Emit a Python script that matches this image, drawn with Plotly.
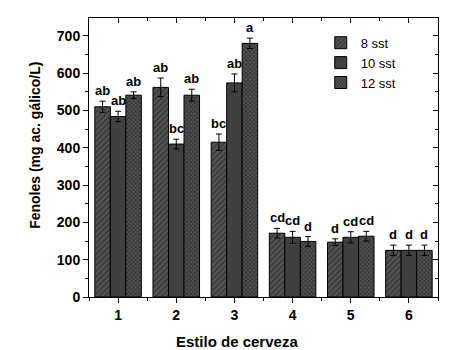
import plotly.graph_objects as go

categories = [1, 2, 3, 4, 5, 6]
series_names = ["8 sst", "10 sst", "12 sst"]
vals_8 = [510, 562, 415, 171, 147, 125]
err_8 = [15, 25, 22, 13, 9, 14]
vals_10 = [484, 410, 574, 160, 160, 125]
err_10 = [14, 13, 24, 16, 15, 14]
vals_12 = [541, 541, 680, 149, 163, 125]
err_12 = [9, 16, 14, 13, 13, 14]
letters_8 = ["ab", "ab", "bc", "cd", "d", "d"]
letters_10 = ["ab", "bc", "ab", "cd", "cd", "d"]
letters_12 = ["ab", "ab", "a", "d", "cd", "d"]
y_ticks = [0, 100, 200, 300, 400, 500, 600, 700]

FONT = "Arial, Liberation Sans, sans-serif"
values = [vals_8, vals_10, vals_12]
errors = [err_8, err_10, err_12]
letters = [letters_8, letters_10, letters_12]
patterns = [
    dict(shape="/", fgcolor="#1a1a1a", bgcolor="#555555", size=4, solidity=0.4),
    dict(shape="", fgcolor="#404040", bgcolor="#404040"),
    dict(shape="x", fgcolor="#111111", bgcolor="#555555", size=3, solidity=0.5),
]

fig = go.Figure()
for name, v, e, p in zip(series_names, values, errors, patterns):
    fig.add_trace(go.Bar(
        x=categories, y=v, name=name,
        marker=dict(color="#404040", pattern=p, line=dict(color="black", width=1)),
        error_y=dict(type="data", array=e, color="black", thickness=1, width=3),
    ))

bar_w = 0.8 / 3
annotations = []
for i, (v, e, lab) in enumerate(zip(values, errors, letters)):
    off = (i - 1) * bar_w
    for c, vv, ee, t in zip(categories, v, e, lab):
        annotations.append(dict(
            x=c + off, y=vv + ee, xref="x", yref="y", text="<b>%s</b>" % t,
            showarrow=False, yanchor="bottom", yshift=1,
            font=dict(family=FONT, size=13, color="black"),
        ))

annotations.append(dict(
    x=-0.155, y=0.545, xref="paper", yref="paper", text="<b>Fenoles (mg ac. gálico/L)</b>",
    textangle=-90, showarrow=False, xanchor="center", yanchor="middle",
    font=dict(family=FONT, size=14, color="black"),
))
annotations.append(dict(
    x=0.424, y=-0.158, xref="paper", yref="paper", text="<b>Estilo de cerveza</b>",
    showarrow=False, xanchor="center", yanchor="middle",
    font=dict(family=FONT, size=15, color="black"),
))

fig.update_layout(
    width=444, height=342,
    margin=dict(l=81, r=14, t=10, b=53, autoexpand=False),
    paper_bgcolor="white", plot_bgcolor="white",
    barmode="group", bargap=0.2, bargroupgap=0,
    font=dict(family=FONT, color="black"),
    showlegend=True,
    legend=dict(x=0.664, y=0.965, xanchor="left", yanchor="top",
                font=dict(family=FONT, size=13, color="black"),
                bgcolor="rgba(0,0,0,0)", tracegroupgap=0, itemwidth=30),
    annotations=annotations,
    xaxis=dict(
        range=[0.5, 6.5], tickmode="array", tickvals=categories,
        ticktext=["<b>%d</b>" % c for c in categories],
        ticks="outside", ticklen=5, tickwidth=1, tickcolor="black",
        minor=dict(tickmode="array", tickvals=[0.5, 1.5, 2.5, 3.5, 4.5, 5.5, 6.5],
                   ticks="outside", ticklen=3, tickcolor="black", tickwidth=1),
        showline=True, linecolor="black", linewidth=1, mirror=True,
        showgrid=False, zeroline=False,
        tickfont=dict(family=FONT, size=14, color="black"),
    ),
    yaxis=dict(
        range=[0, 748], tickmode="array", tickvals=y_ticks,
        ticktext=["<b>%d</b>" % t for t in y_ticks],
        ticks="outside", ticklen=5, tickwidth=1, tickcolor="black",
        minor=dict(dtick=50, ticks="outside", ticklen=3, tickcolor="black", tickwidth=1),
        showline=True, linecolor="black", linewidth=1, mirror=True,
        showgrid=False, zeroline=False,
        tickfont=dict(family=FONT, size=14, color="black"),
    ),
    xaxis2=dict(
        overlaying="x", side="top", range=[0.5, 6.5], tickmode="array", tickvals=categories,
        showticklabels=False, ticks="inside", ticklen=5, tickcolor="black",
        minor=dict(tickmode="array", tickvals=[1.5, 2.5, 3.5, 4.5, 5.5],
                   ticks="inside", ticklen=3, tickcolor="black"),
        showline=False, showgrid=False, zeroline=False,
    ),
    yaxis2=dict(
        overlaying="y", side="right", range=[0, 748], tickmode="array", tickvals=y_ticks,
        showticklabels=False, ticks="inside", ticklen=5, tickcolor="black",
        minor=dict(dtick=50, ticks="inside", ticklen=3, tickcolor="black"),
        showline=False, showgrid=False, zeroline=False,
    ),
)
fig.add_trace(go.Scatter(x=[None], y=[None], xaxis="x2", yaxis="y2", showlegend=False,
                         hoverinfo="skip"))

fig.write_html("out.html")
